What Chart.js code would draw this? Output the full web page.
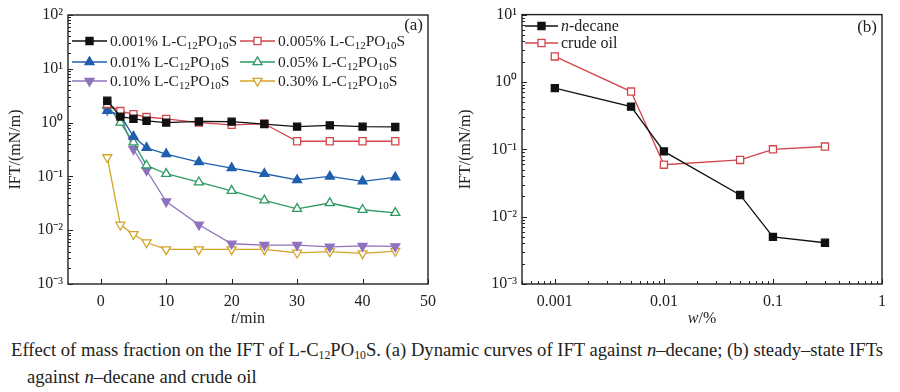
<!DOCTYPE html>
<html><head><meta charset="utf-8">
<script src="https://cdn.jsdelivr.net/npm/chart.js@4.4.1/dist/chart.umd.min.js"></script>
<style>
html,body{margin:0;padding:0;background:#fff;}
body{width:900px;height:392px;position:relative;overflow:hidden;font-family:"Liberation Serif","Times New Roman",serif;color:#222;}
#wa{position:absolute;left:0;top:0;width:450px;height:330px;}
#wb{position:absolute;left:450px;top:0;width:450px;height:330px;}
.xt{position:absolute;top:308px;font-size:16px;width:120px;text-align:center;line-height:20px;}
.cap{position:absolute;left:11px;font-size:19px;white-space:nowrap;transform-origin:0 0;line-height:20px;}
sub{font-size:12px;vertical-align:-3px;line-height:0;}
</style></head>
<body>
<div id="wa"><canvas id="ca" width="450" height="330"></canvas></div>
<div id="wb"><canvas id="cb" width="450" height="330"></canvas></div>
<div class="xt" style="left:188px"><i>t</i>/min</div>
<div class="xt" style="left:642px"><i>w</i>/%</div>
<div class="cap" id="cap1" style="top:340px">Effect of mass fraction on the IFT of L-C<sub>12</sub>PO<sub>10</sub>S. (a) Dynamic curves of IFT against <i>n</i>–decane; (b) steady–state IFTs</div>
<div class="cap" id="cap2" style="top:367px;left:27px">against <i>n</i>–decane and crude oil</div>
<script>
// ---------- data (a) ----------
const timesMin = [1, 3, 5, 7, 10, 15, 20, 25, 30, 35, 40, 45];
const ift0001 = [2.55, 1.29, 1.18, 1.08, 1.0, 1.05, 1.04, 0.94, 0.84, 0.89, 0.84, 0.83];
const ift0005 = [2.22, 1.64, 1.43, 1.27, 1.17, 1.0, 0.91, 0.95, 0.45, 0.45, 0.45, 0.45];
const ift001  = [1.66, 1.38, 0.55, 0.34, 0.26, 0.185, 0.143, 0.112, 0.086, 0.10, 0.081, 0.096];
const ift005  = [2.1, 1.0, 0.43, 0.16, 0.112, 0.078, 0.054, 0.036, 0.025, 0.032, 0.024, 0.021];
const ift010  = [1.72, 1.33, 0.32, 0.13, 0.034, 0.0126, 0.0056, 0.0053, 0.0053, 0.0049, 0.0051, 0.0050];
const ift030  = [0.226, 0.0126, 0.0084, 0.0059, 0.0044, 0.0044, 0.0044, 0.0044, 0.0038, 0.0040, 0.0037, 0.0041];
const seriesLabelsA = ['0.001% L-C₁₂PO₁₀S', '0.005% L-C₁₂PO₁₀S', '0.01% L-C₁₂PO₁₀S', '0.05% L-C₁₂PO₁₀S', '0.10% L-C₁₂PO₁₀S', '0.30% L-C₁₂PO₁₀S'];
const xTicksA = [0, 10, 20, 30, 40, 50];
const yTicks = [0.001, 0.01, 0.1, 1, 10, 100];
const yTickLabels = ['10⁻³', '10⁻²', '10⁻¹', '10⁰', '10¹', '10²'];
// ---------- data (b) ----------
const massFrac = [0.001, 0.005, 0.01, 0.05, 0.1, 0.3];
const iftDecane = [0.81, 0.43, 0.093, 0.021, 0.0050, 0.0041];
const iftCrude  = [2.39, 0.72, 0.059, 0.0695, 0.100, 0.110];
const seriesLabelsB = ['_n_-decane', 'crude oil'];
const xTicksB = [0.001, 0.01, 0.1, 1];
const xTickLabelsB = ['0.001', '0.01', '0.1', '1'];
const yTicksB = [0.001, 0.01, 0.1, 1, 10];
const yTickLabelsB = ['10⁻³', '10⁻²', '10⁻¹', '10⁰', '10¹'];

const FONT = '"Liberation Serif","Times New Roman",serif';
const INK = '#222';

// draw a label with subscript digits and _italic_ parts
function drawRich(ctx, text, x, y, size) {
  const subs = '₀₁₂₃₄₅₆₇₈₉';
  let italic = false;
  let cx = x;
  for (const ch of text) {
    if (ch === '_') { italic = !italic; continue; }
    const si = subs.indexOf(ch);
    if (si >= 0) {
      ctx.font = `${Math.round(size * 0.68)}px ${FONT}`;
      ctx.fillText(String(si), cx, y + size * 0.28);
      cx += ctx.measureText(String(si)).width;
    } else {
      ctx.font = `${italic ? 'italic ' : ''}${size}px ${FONT}`;
      ctx.fillText(ch, cx, y);
      cx += ctx.measureText(ch).width;
    }
  }
}

const framePlugin = {
  id: 'frame',
  afterDatasetsDraw(chart, args, o) {
    const ctx = chart.ctx, a = chart.chartArea;
    const xs = chart.scales.x, ys = chart.scales.y;
    ctx.save();
    ctx.strokeStyle = INK; ctx.lineWidth = 1.4;
    ctx.strokeRect(a.left, a.top, a.right - a.left, a.bottom - a.top);
    ctx.lineWidth = 1;
    ctx.beginPath();
    const lmin = Math.round(Math.log10(ys.min)), lmax = Math.round(Math.log10(ys.max));
    for (let d = lmin; d <= lmax; d++) {
      for (let k = 1; k <= 9; k++) {
        const v = k * Math.pow(10, d);
        if (v < ys.min * 0.999 || v > ys.max * 1.001) continue;
        const p = Math.round(ys.getPixelForValue(v)) + 0.5;
        const len = k === 1 ? 5 : 3;
        ctx.moveTo(a.left, p); ctx.lineTo(a.left + len, p);
      }
    }
    if (o.xLog) {
      const xmin = Math.floor(Math.log10(xs.min)), xmax = Math.round(Math.log10(xs.max));
      for (let d = xmin; d <= xmax; d++) {
        for (let k = 1; k <= 9; k++) {
          const v = k * Math.pow(10, d);
          if (v < xs.min * 0.999 || v > xs.max * 1.001) continue;
          const p = Math.round(xs.getPixelForValue(v)) + 0.5;
          const len = k === 1 ? 5 : 3;
          ctx.moveTo(p, a.bottom); ctx.lineTo(p, a.bottom - len);
        }
      }
    } else {
      for (const v of o.xMajor) {
        const p = Math.round(xs.getPixelForValue(v)) + 0.5;
        ctx.moveTo(p, a.bottom); ctx.lineTo(p, a.bottom - 5);
      }
    }
    ctx.stroke();
    // panel tag
    ctx.fillStyle = INK;
    ctx.font = `17px ${FONT}`;
    ctx.textAlign = 'right'; ctx.textBaseline = 'middle';
    ctx.fillText(o.tag, a.right - 5, a.top + o.tagDy);
    // legend
    ctx.textAlign = 'left';
    for (const it of o.legend) {
      const ds = chart.data.datasets[it.i];
      ctx.strokeStyle = ds.borderColor; ctx.lineWidth = 1.3;
      ctx.beginPath(); ctx.moveTo(it.x0, it.y); ctx.lineTo(it.x1, it.y); ctx.stroke();
      ctx.fillStyle = ds.pointBackgroundColor; ctx.strokeStyle = ds.pointBorderColor;
      Chart.helpers.drawPoint(ctx, { pointStyle: ds.pointStyle, rotation: ds.pointRotation || 0, radius: ds.pointRadius, borderWidth: 1.3 }, (it.x0 + it.x1) / 2, it.y);
      ctx.fillStyle = INK; ctx.textBaseline = 'middle';
      drawRich(ctx, ds.label, it.x1 + 3, it.y + 1, o.legendSize);
    }
    ctx.restore();
  }
};

function mkDs(label, ys, xs, color, style, rot, filled) {
  return {
    label, data: xs.map((x, i) => ({ x, y: ys[i] })),
    borderColor: color, backgroundColor: filled ? color : '#fff',
    pointBorderColor: color, pointBackgroundColor: filled ? color : '#fff',
    pointStyle: style, pointRotation: rot, pointRadius: style === 'rect' ? 5 : 5.2,
    pointBorderWidth: 1.3, borderWidth: 1.3, tension: 0, fill: false
  };
}

const colors = { black: '#111111', red: '#d2474b', blue: '#1f5fae', green: '#2c9a62', purple: '#8e72bd', gold: '#d3a42a' };

const dsA = [
  mkDs(seriesLabelsA[0], ift0001, timesMin, colors.black, 'rect', 0, true),
  mkDs(seriesLabelsA[1], ift0005, timesMin, colors.red, 'rect', 0, false),
  mkDs(seriesLabelsA[2], ift001, timesMin, colors.blue, 'triangle', 0, true),
  mkDs(seriesLabelsA[3], ift005, timesMin, colors.green, 'triangle', 0, false),
  mkDs(seriesLabelsA[4], ift010, timesMin, colors.purple, 'triangle', 180, true),
  mkDs(seriesLabelsA[5], ift030, timesMin, colors.gold, 'triangle', 180, false)
];
const dsB = [
  mkDs(seriesLabelsB[0], iftDecane, massFrac, colors.black, 'rect', 0, true),
  mkDs(seriesLabelsB[1], iftCrude, massFrac, colors.red, 'rect', 0, false)
];

function yAxis(width, min, max, ticks, labels) {
  return {
    type: 'logarithmic', min, max,
    afterBuildTicks: s => { s.ticks = ticks.map(v => ({ value: v })); },
    afterFit: s => { s.width = width; },
    grid: { display: false, drawTicks: false },
    border: { display: false },
    ticks: { color: INK, font: { family: FONT, size: 16 }, padding: 5, autoSkip: false,
      callback: v => { const i = ticks.indexOf(v); return i >= 0 ? labels[i] : ''; } },
    title: { display: true, text: 'IFT/(mN/m)', color: INK, font: { family: FONT, size: 16 }, padding: { top: 6, bottom: 0 } }
  };
}

function baseOpts() {
  return {
    responsive: false, animation: false, devicePixelRatio: 1,
    plugins: { legend: { display: false }, tooltip: { enabled: false } },
    elements: { line: { borderJoinStyle: 'miter' } }
  };
}

const optA = baseOpts();
optA.layout = { padding: { left: 0, right: 22, top: 15, bottom: 0 } };
optA.scales = {
  x: {
    type: 'linear', min: -5, max: 50,
    afterBuildTicks: s => { s.ticks = xTicksA.map(v => ({ value: v })); },
    afterFit: s => { s.height = 46; },
    grid: { display: false, drawTicks: false }, border: { display: false },
    ticks: { color: INK, font: { family: FONT, size: 16 }, padding: 8, maxRotation: 0, autoSkip: false }
  },
  y: yAxis(68, 0.001, 100, yTicks, yTickLabels)
};
optA.plugins.frame = {
  tag: '(a)', tagDy: 11, xLog: false, xMajor: xTicksA, legendSize: 15.5,
  legend: [
    { i: 0, x0: 72, x1: 107, y: 41 }, { i: 1, x0: 240, x1: 275, y: 41 },
    { i: 2, x0: 72, x1: 107, y: 62 }, { i: 3, x0: 240, x1: 275, y: 62 },
    { i: 4, x0: 72, x1: 107, y: 81 }, { i: 5, x0: 240, x1: 275, y: 81 }
  ]
};

const optB = baseOpts();
optB.layout = { padding: { left: 0, right: 18, top: 14, bottom: 0 } };
optB.scales = {
  x: {
    type: 'logarithmic', min: 0.0005, max: 1,
    afterBuildTicks: s => { s.ticks = xTicksB.map(v => ({ value: v })); },
    afterFit: s => { s.height = 46; },
    grid: { display: false, drawTicks: false }, border: { display: false },
    ticks: { color: INK, font: { family: FONT, size: 16 }, padding: 8, maxRotation: 0, autoSkip: false,
      callback: v => { const i = xTicksB.indexOf(v); return i >= 0 ? xTickLabelsB[i] : ''; } }
  },
  y: yAxis(72, 0.001, 10, yTicksB, yTickLabelsB)
};
optB.plugins.frame = {
  tag: '(b)', tagDy: 13, xLog: true, legendSize: 16,
  legend: [ { i: 0, x0: 75, x1: 108, y: 26 }, { i: 1, x0: 75, x1: 108, y: 43 } ]
};

new Chart(document.getElementById('ca'), { type: 'line', data: { datasets: dsA }, options: optA, plugins: [framePlugin] });
new Chart(document.getElementById('cb'), { type: 'line', data: { datasets: dsB }, options: optB, plugins: [framePlugin] });

// fit caption line 1 to reference width
const c1 = document.getElementById('cap1'), c2 = document.getElementById('cap2');
const sc = 872 / c1.getBoundingClientRect().width;
c1.style.transform = `scaleX(${sc})`;
c2.style.transform = `scaleX(${sc})`;
</script>
</body></html>
